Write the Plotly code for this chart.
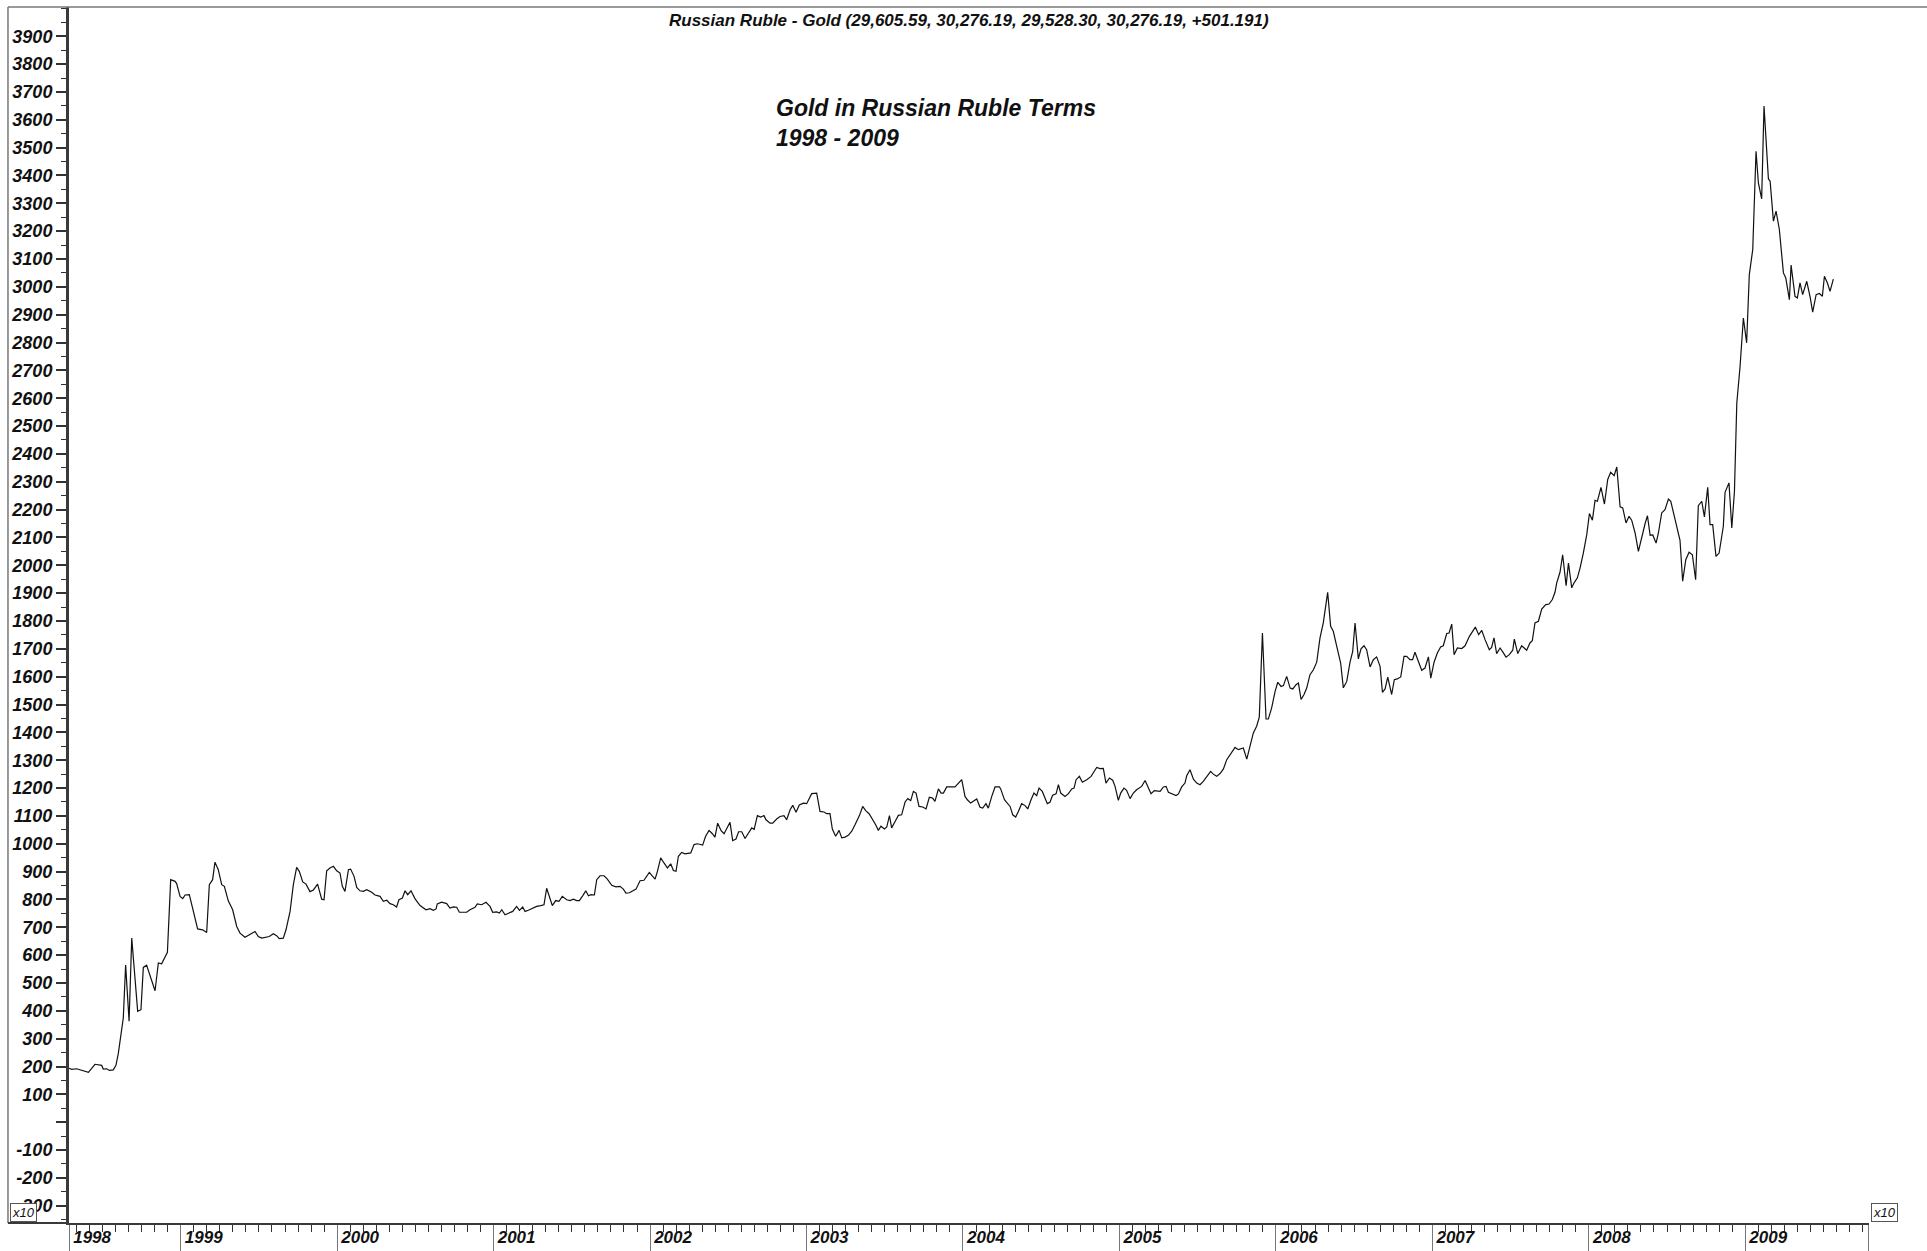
import plotly.graph_objects as go

# ---- data (decimal year, gold price in rubles x10) ----
years = [
    1998.286, 1998.303, 1998.335, 1998.378, 1998.410, 1998.431, 1998.452, 1998.495, 1998.505, 1998.527,
    1998.544, 1998.569, 1998.586, 1998.601, 1998.623, 1998.633, 1998.648, 1998.670, 1998.687, 1998.708,
    1998.725, 1998.746, 1998.761, 1998.782, 1998.804, 1998.836, 1998.857, 1998.878, 1998.915, 1998.936,
    1998.964, 1998.974, 1998.996, 1999.013, 1999.028, 1999.055, 1999.081, 1999.108, 1999.140, 1999.166,
    1999.183, 1999.204, 1999.219, 1999.240, 1999.262, 1999.279, 1999.304, 1999.332, 1999.358, 1999.379,
    1999.411, 1999.439, 1999.475, 1999.496, 1999.518, 1999.566, 1999.592, 1999.613, 1999.630, 1999.656,
    1999.673, 1999.699, 1999.720, 1999.741, 1999.758, 1999.780, 1999.801, 1999.826, 1999.848, 1999.875,
    1999.901, 1999.916, 1999.933, 1999.954, 1999.976, 1999.997, 2000.018,
    2000.033, 2000.050, 2000.072, 2000.086, 2000.108, 2000.125, 2000.146, 2000.167, 2000.189, 2000.221,
    2000.242, 2000.274, 2000.295, 2000.317, 2000.338, 2000.359, 2000.380, 2000.395, 2000.417, 2000.434,
    2000.451, 2000.472, 2000.498, 2000.530, 2000.568, 2000.593, 2000.615, 2000.632, 2000.640, 2000.668,
    2000.700, 2000.721, 2000.743, 2000.764, 2000.781, 2000.807, 2000.828, 2000.849, 2000.881, 2000.896,
    2000.924, 2000.951, 2000.977, 2000.994, 2001.020, 2001.037, 2001.052, 2001.073, 2001.094, 2001.122,
    2001.147, 2001.165, 2001.186, 2001.201, 2001.222, 2001.250, 2001.275, 2001.301, 2001.322, 2001.339,
    2001.356, 2001.375, 2001.397, 2001.418, 2001.439, 2001.467, 2001.488, 2001.510, 2001.531, 2001.548,
    2001.569, 2001.589, 2001.606, 2001.623, 2001.644, 2001.659, 2001.680, 2001.706, 2001.727, 2001.755,
    2001.782, 2001.808, 2001.829, 2001.846, 2001.868, 2001.889, 2001.910, 2001.936, 2001.961, 2001.995,
    2002.021, 2002.032, 2002.047,
    2002.068, 2002.089, 2002.111, 2002.132, 2002.149, 2002.166, 2002.181, 2002.202, 2002.223, 2002.260,
    2002.281, 2002.302, 2002.336, 2002.355, 2002.377, 2002.398, 2002.415, 2002.432, 2002.454, 2002.473,
    2002.494, 2002.511, 2002.528, 2002.549, 2002.566, 2002.586, 2002.607, 2002.628, 2002.650, 2002.665,
    2002.686, 2002.707, 2002.728, 2002.741, 2002.767, 2002.784, 2002.809, 2002.831, 2002.856, 2002.873,
    2002.895, 2002.912, 2002.933, 2002.954, 2002.980, 2003.001, 2003.033, 2003.065, 2003.086, 2003.112,
    2003.129, 2003.150, 2003.165, 2003.186, 2003.208, 2003.225, 2003.246, 2003.267, 2003.289, 2003.310,
    2003.338, 2003.359, 2003.378, 2003.400, 2003.427, 2003.442, 2003.459, 2003.476, 2003.498, 2003.513,
    2003.530, 2003.544, 2003.566, 2003.587, 2003.608, 2003.630, 2003.647, 2003.666, 2003.683, 2003.700,
    2003.719, 2003.743, 2003.764, 2003.785, 2003.806, 2003.821, 2003.843, 2003.860, 2003.875, 2003.896,
    2003.949, 2003.971, 2003.992, 2004.013, 2004.028, 2004.049, 2004.066, 2004.088, 2004.109,
    2004.126, 2004.147, 2004.162, 2004.184, 2004.205, 2004.233, 2004.241, 2004.265, 2004.284, 2004.301,
    2004.318, 2004.337, 2004.354, 2004.375, 2004.397, 2004.414, 2004.435, 2004.454, 2004.471, 2004.486,
    2004.507, 2004.524, 2004.539, 2004.556, 2004.573, 2004.595, 2004.610, 2004.625, 2004.652, 2004.674,
    2004.695, 2004.710, 2004.723, 2004.744, 2004.763, 2004.791, 2004.819, 2004.834, 2004.855, 2004.876,
    2004.897, 2004.914, 2004.936, 2004.957, 2004.972, 2004.993, 2005.008, 2005.029, 2005.046, 2005.068,
    2005.089, 2005.110, 2005.142, 2005.164, 2005.181, 2005.202, 2005.223, 2005.260, 2005.281, 2005.298,
    2005.313, 2005.338, 2005.362, 2005.377, 2005.398, 2005.419, 2005.430, 2005.451, 2005.473, 2005.494,
    2005.515, 2005.536, 2005.558, 2005.583, 2005.600, 2005.622, 2005.643, 2005.664, 2005.686, 2005.711,
    2005.739, 2005.760, 2005.792, 2005.814, 2005.835, 2005.856, 2005.877, 2005.894, 2005.914, 2005.937,
    2005.952, 2005.973, 2005.995, 2006.012, 2006.033, 2006.048, 2006.069, 2006.091,
    2006.108, 2006.129, 2006.144, 2006.161, 2006.180, 2006.197, 2006.218, 2006.240, 2006.261, 2006.282,
    2006.303, 2006.331, 2006.350, 2006.367, 2006.389, 2006.414, 2006.431, 2006.453, 2006.474, 2006.491,
    2006.506, 2006.527, 2006.544, 2006.563, 2006.580, 2006.602, 2006.623, 2006.644, 2006.666, 2006.681,
    2006.698, 2006.715, 2006.740, 2006.757, 2006.776, 2006.798, 2006.819, 2006.836, 2006.857, 2006.874,
    2006.889, 2006.911, 2006.932, 2006.953, 2006.975, 2006.990, 2007.011, 2007.032, 2007.053, 2007.070,
    2007.092, 2007.107, 2007.124, 2007.139, 2007.160, 2007.188, 2007.209, 2007.237, 2007.258, 2007.275,
    2007.296, 2007.316, 2007.337, 2007.364, 2007.379, 2007.394, 2007.411, 2007.433, 2007.450, 2007.471,
    2007.492, 2007.514, 2007.524, 2007.546, 2007.571, 2007.603, 2007.624, 2007.639, 2007.656, 2007.678,
    2007.699, 2007.725, 2007.746, 2007.767, 2007.784, 2007.795, 2007.816, 2007.833, 2007.855, 2007.870,
    2007.891, 2007.906, 2007.927, 2007.944, 2007.965, 2007.987, 2008.004, 2008.023, 2008.040, 2008.055,
    2008.078, 2008.100, 2008.121, 2008.140, 2008.162, 2008.179, 2008.200, 2008.217, 2008.238, 2008.257,
    2008.274, 2008.296, 2008.317, 2008.338, 2008.360, 2008.375, 2008.392, 2008.409, 2008.430, 2008.445,
    2008.466, 2008.487, 2008.509, 2008.524, 2008.545, 2008.566, 2008.583, 2008.600, 2008.620, 2008.641,
    2008.662, 2008.683, 2008.700, 2008.722, 2008.739, 2008.760, 2008.775, 2008.792, 2008.813, 2008.833,
    2008.860, 2008.871, 2008.896, 2008.914, 2008.931, 2008.946, 2008.967, 2008.988, 2009.009, 2009.026,
    2009.048, 2009.069, 2009.084, 2009.105, 2009.120, 2009.148, 2009.159, 2009.180, 2009.197, 2009.218,
    2009.244, 2009.259, 2009.282, 2009.293, 2009.318, 2009.333, 2009.350, 2009.367, 2009.393, 2009.414,
    2009.431, 2009.453, 2009.474, 2009.493, 2009.506, 2009.525, 2009.542, 2009.563,
]

values = [
    194, 190, 192, 184, 179, 193, 208, 204, 191, 192,
    186, 188, 204, 246, 332, 374, 564, 363, 661, 500,
    398, 404, 556, 564, 524, 472, 572, 569, 610, 871,
    865, 857, 811, 803, 816, 817, 757, 694, 691, 681,
    853, 871, 934, 907, 853, 847, 795, 763, 703, 679,
    664, 673, 685, 667, 661, 667, 677, 670, 659, 661,
    691, 757, 853, 915, 901, 863, 855, 828, 834, 855,
    801, 799, 903, 913, 919, 903, 895,
    847, 829, 907, 909, 883, 843, 831, 829, 835, 826,
    816, 811, 793, 797, 785, 781, 773, 799, 805, 831,
    817, 831, 802, 778, 763, 767, 761, 766, 784, 790,
    785, 769, 773, 772, 754, 755, 754, 763, 772, 784,
    781, 790, 775, 754, 755, 751, 763, 745, 749, 757,
    775, 761, 773, 757, 761, 769, 775, 778, 781, 840,
    811, 778, 796, 793, 811, 799, 796, 801, 796, 796,
    813, 831, 813, 817, 816, 871, 885, 885, 873, 851,
    845, 847, 837, 823, 824, 831, 837, 867, 869, 897,
    881, 873, 901,
    949, 931, 913, 928, 904, 901, 955, 969, 964, 967,
    997, 1000, 995, 1027, 1048, 1036, 1024, 1074, 1047, 1036,
    1057, 1077, 1011, 1017, 1043, 1043, 1019, 1036, 1057, 1051,
    1101, 1096, 1101, 1086, 1074, 1074, 1089, 1098, 1101, 1086,
    1122, 1138, 1113, 1139, 1146, 1144, 1180, 1182, 1116, 1114,
    1108, 1108, 1053, 1027, 1048, 1021, 1024, 1030, 1045, 1068,
    1101, 1134, 1119, 1108, 1084, 1068, 1048, 1063, 1053, 1060,
    1101, 1057, 1080, 1102, 1104, 1150, 1162, 1155, 1188, 1182,
    1134, 1132, 1125, 1167, 1164, 1152, 1197, 1182, 1182, 1204,
    1204, 1216, 1230, 1170, 1158, 1146, 1152, 1161, 1131,
    1128, 1144, 1128, 1170, 1204, 1204, 1197, 1158, 1146, 1134,
    1104, 1096, 1116, 1144, 1137, 1125, 1158, 1182, 1173, 1200,
    1188, 1164, 1144, 1149, 1174, 1179, 1212, 1182, 1170, 1180,
    1197, 1200, 1230, 1242, 1221, 1230, 1242, 1256, 1274, 1270,
    1271, 1218, 1236, 1228, 1206, 1156, 1182, 1200, 1192, 1162,
    1182, 1194, 1206, 1227, 1204, 1180, 1191, 1188, 1204, 1206,
    1185, 1179, 1173, 1179, 1204, 1218, 1244, 1266, 1232, 1218,
    1212, 1224, 1240, 1260, 1250, 1242, 1252, 1268, 1302, 1323,
    1346, 1338, 1344, 1304, 1350, 1398, 1422, 1455, 1757, 1448,
    1448, 1488, 1547, 1580, 1565, 1568, 1601, 1559,
    1556, 1571, 1577, 1518, 1536, 1559, 1607, 1625, 1652, 1739,
    1793, 1903, 1781, 1763, 1709, 1649, 1560, 1583, 1652, 1691,
    1793, 1664, 1700, 1711, 1697, 1635, 1661, 1671, 1637, 1544,
    1556, 1598, 1536, 1589, 1592, 1599, 1673, 1673, 1661, 1661,
    1688, 1652, 1623, 1631, 1671, 1595, 1652, 1685, 1707, 1711,
    1755, 1757, 1789, 1679, 1703, 1701, 1711, 1745, 1763, 1778,
    1751, 1766, 1733, 1697, 1705, 1739, 1683, 1703, 1689, 1670,
    1679, 1695, 1735, 1683, 1711, 1695, 1721, 1729, 1793, 1799,
    1843, 1859, 1861, 1877, 1903, 1937, 1975, 2038, 1927, 2008,
    1919, 1937, 1955, 1990, 2044, 2110, 2186, 2162, 2233, 2230,
    2280, 2220, 2308, 2334, 2322, 2353, 2210, 2206, 2152, 2176,
    2162, 2116, 2050, 2104, 2150, 2178, 2108, 2109, 2080, 2116,
    2188, 2200, 2238, 2230, 2182, 2134, 2090, 1943, 2020, 2047,
    2038, 1948, 2214, 2230, 2174, 2280, 2146, 2146, 2032, 2044,
    2140, 2262, 2296, 2134, 2266, 2583, 2715, 2888, 2799, 3044,
    3134, 3487, 3373, 3316, 3649, 3388, 3379, 3236, 3272, 3206,
    3050, 3032, 2954, 3078, 2966, 2960, 3014, 2972, 3020, 2966,
    2909, 2972, 2976, 2966, 3038, 3014, 2984, 3028,
]

x_start, x_end = 1998.286, 2009.791
year_ticks = [1998.2865, 1999, 2000, 2001, 2002, 2003, 2004, 2005, 2006, 2007, 2008, 2009, 2009.7905]
year_labels = ["1998", "1999", "2000", "2001", "2002", "2003", "2004", "2005", "2006", "2007", "2008", "2009", ""]

y_min, y_max = -362, 4005
y_ticks = list(range(-300, 4000, 100))
y_labels = ["" if v == 0 else str(v) for v in y_ticks]

title_text = "Russian Ruble - Gold (29,605.59, 30,276.19, 29,528.30, 30,276.19, +501.191)"
note_lines = ["Gold in Russian Ruble Terms", "1998 - 2009"]

FONT = "Liberation Sans, Arial, Helvetica, sans-serif"
ytickfont = dict(family=FONT, size=18, color="#111", weight="bold", style="italic")
xtickfont = dict(family=FONT, size=17, color="#111", weight="bold", style="italic")

fig = go.Figure()
fig.add_trace(go.Scatter(
    x=years, y=values, mode="lines",
    line=dict(color="#111111", width=1.2),
    showlegend=False, hoverinfo="x+y",
))

yaxis_common = dict(
    range=[y_min, y_max],
    tickmode="array", tickvals=y_ticks, ticktext=y_labels,
    ticks="outside", ticklen=10, tickwidth=1.5, tickcolor="#333",
    minor=dict(dtick=50, tick0=0, ticks="outside", ticklen=5, tickwidth=1.2, tickcolor="#333"),
    showline=True, linewidth=3, linecolor="#3a3a3a",
    showgrid=False, zeroline=False,
    tickfont=ytickfont, automargin=False, fixedrange=True,
)

fig.update_layout(
    width=1927, height=1251,
    margin=dict(l=69, r=58, t=7, b=28, pad=0),
    paper_bgcolor="white", plot_bgcolor="white",
    showlegend=False,
    xaxis=dict(
        range=[x_start, x_end],
        tickmode="array", tickvals=year_ticks, ticktext=year_labels,
        ticks="outside", ticklen=28, tickwidth=1.2, tickcolor="#777",
        ticklabelshift=23, ticklabelstandoff=-30,
        minor=dict(dtick=1 / 12, tick0=0, ticks="outside", ticklen=7, tickwidth=1.2, tickcolor="#333"),
        showline=True, linewidth=2, linecolor="#3a3a3a",
        showgrid=False, zeroline=False,
        tickfont=xtickfont, automargin=False, fixedrange=True,
    ),
    yaxis=dict(side="left", **yaxis_common),
    yaxis2=dict(side="right", overlaying="y", anchor="x", **yaxis_common),
)

# outer frame (top edge across the page, left edge, bottom edge extension)
fig.add_shape(type="line", xref="paper", yref="paper", x0=-0.0339, x1=1.04, y0=1, y1=1,
              line=dict(color="#777", width=1.5))
fig.add_shape(type="line", xref="paper", yref="paper", x0=-0.0339, x1=-0.0339, y0=0, y1=1,
              line=dict(color="#777", width=1.5))
fig.add_shape(type="line", xref="paper", yref="paper", x0=-0.0339, x1=0, y0=0, y1=0,
              line=dict(color="#3a3a3a", width=2))

# header text
fig.add_annotation(x=0.5, y=0.9887, xref="paper", yref="paper", xanchor="center", yanchor="middle",
                   text="<b><i>" + title_text + "</i></b>", showarrow=False,
                   font=dict(family=FONT, size=17, color="#111"))
fig.add_annotation(x=0.3917, y=0.929, xref="paper", yref="paper", xanchor="left", yanchor="top",
                   align="left", showarrow=False,
                   text="<br>".join("<b><i>" + s + "</i></b>" for s in note_lines),
                   font=dict(family=FONT, size=23, color="#111"))

# "x10" scale boxes
for xp in (-0.0328, 1.0011):
    fig.add_annotation(x=xp, y=0.001, xref="paper", yref="paper", xanchor="left", yanchor="bottom",
                       text="<i>x10</i>", showarrow=False, bgcolor="white",
                       bordercolor="#555", borderwidth=1, borderpad=1,
                       font=dict(family=FONT, size=13, color="#111"))

fig.write_html("out.html", include_plotlyjs=True, config={"displayModeBar": False},
               post_script="document.body.style.margin='0';document.body.style.overflow='hidden';")
